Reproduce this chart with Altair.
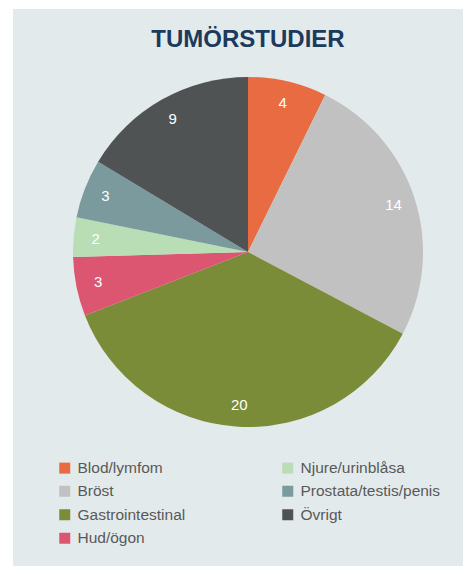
import altair as alt
import pandas as pd

title_text = "TUMÖRSTUDIER"
categories = ["Blod/lymfom", "Bröst", "Gastrointestinal", "Hud/ögon",
              "Njure/urinblåsa", "Prostata/testis/penis", "Övrigt"]
values = [4, 14, 20, 3, 2, 3, 9]
colors = ["#E96B41", "#C0C1C0", "#7A8C37", "#DC5672", "#B9DDB5", "#7A9A9E", "#4F5354"]

df = pd.DataFrame({"cat": categories, "val": values, "ord": list(range(len(categories)))})

CX, CY = 235, 243

color = alt.Color("cat:N", scale=alt.Scale(domain=categories, range=colors),
                  legend=alt.Legend(orient="none", legendX=44, legendY=451, columns=2,
                                    title=None, symbolType="square", symbolSize=121,
                                    symbolStrokeWidth=0, labelFontSize=15.5,
                                    labelFont="Liberation Sans", labelColor="#595959",
                                    labelOffset=5, rowPadding=6.5, columnPadding=94,
                                    padding=0, labelLimit=300))

base = alt.Chart(df).encode(
    theta=alt.Theta("val:Q", stack=True),
    order=alt.Order("ord:Q"),
)

pie = base.mark_arc(outerRadius=175).encode(
    color=color, x=alt.value(CX), y=alt.value(CY)
)

labels = base.mark_text(radius=153, fontSize=15, font="Liberation Sans",
                        color="#FFFFFF").encode(
    text="val:Q", x=alt.value(CX), y=alt.value(CY)
)

title = alt.Chart(pd.DataFrame({"t": [title_text]})).mark_text(
    font="Liberation Sans", fontSize=24, fontWeight="bold", color="#1B3A5C"
).encode(text="t:N", x=alt.value(CX), y=alt.value(31))

chart = alt.layer(pie, labels, title).properties(
    width=450, height=557,
    padding={"left": 5, "top": 1, "right": 0, "bottom": 0},
    autosize=alt.AutoSizeParams(type="none"),
    background="#FFFFFF",
).configure_view(fill="#E3EAEC", strokeWidth=0)

chart.save("out.html", embed_options={"renderer": "svg", "actions": False})
